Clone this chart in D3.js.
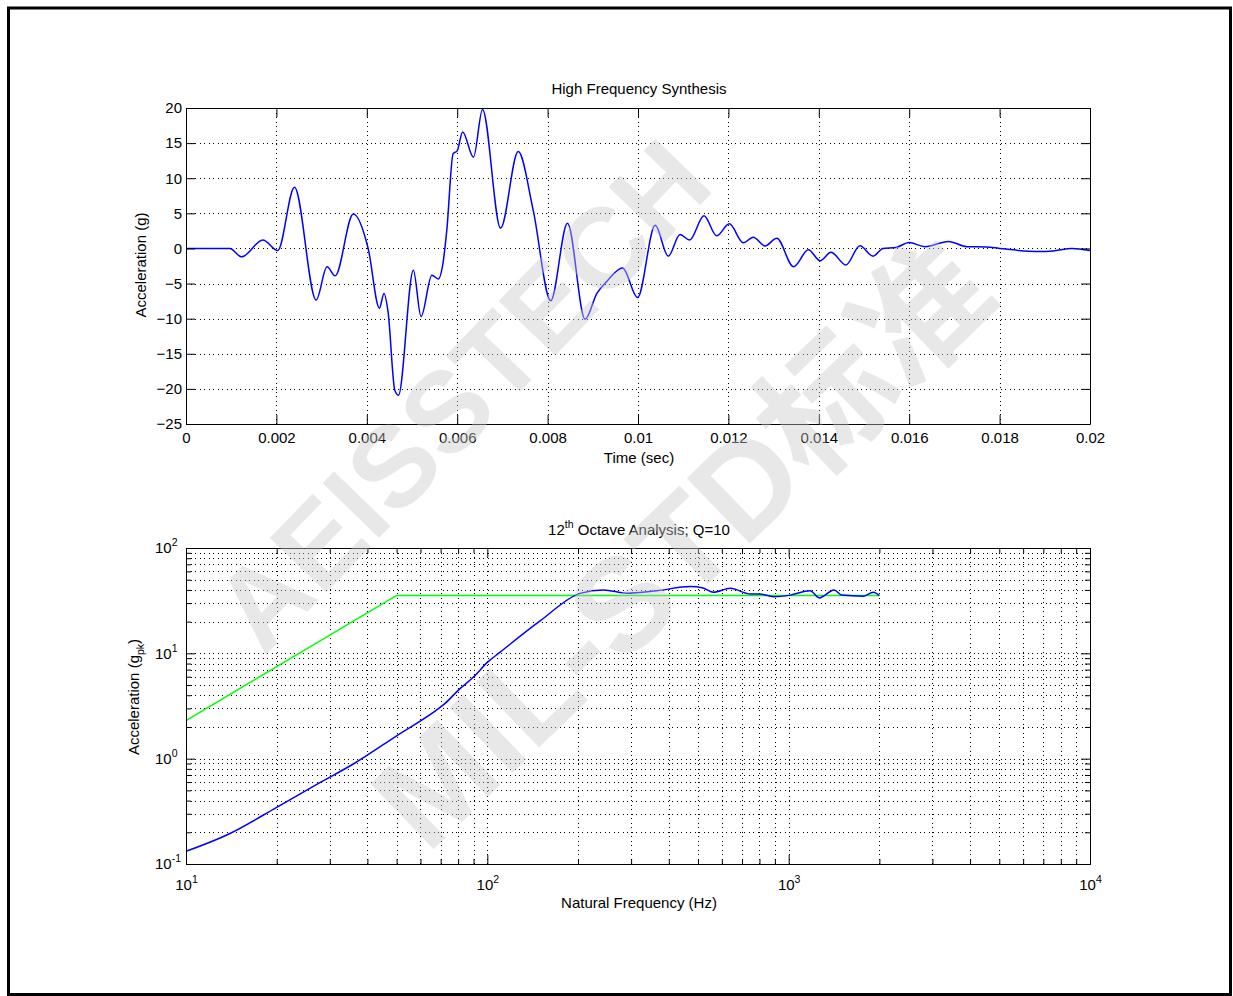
<!DOCTYPE html>
<html>
<head>
<meta charset="utf-8">
<script src="https://cdn.jsdelivr.net/npm/d3@7"></script>
<style>
  body { margin: 0; background: #fff; }
  svg text { font-family: "Liberation Sans", Arial, Helvetica, sans-serif; }
</style>
</head>
<body>
<svg id="fig" width="1233" height="996"></svg>
<script>
// ---- time history (acceleration, g) ----
const timeSec = [0,0.00097,0.00123,0.0017,0.00203,0.0024,0.00288,0.00312,0.0033,0.0037,
  0.00403,0.00428,0.00438,0.00447,0.00462,0.0047,0.00503,0.0052,0.00544,0.00558,
  0.00569,0.00577,0.00591,0.006,0.00612,0.00636,0.00656,0.00696,0.00735,0.00768,
  0.00807,0.00844,0.00883,0.00909,0.00931,0.00966,0.00999,0.01038,0.01067,0.01093,
  0.01114,0.01146,0.01174,0.01202,0.01233,0.01255,0.01281,0.01307,0.01344,0.01377,
  0.01403,0.01427,0.0146,0.01491,0.0152,0.01542,0.01571,0.016,0.01635,0.01687,
  0.01727,0.01771,0.018,0.01889,0.01918,0.0196,0.02];
const accelG = [0,0,-1.2,1.2,-0.3,8.7,-7.35,-2.6,-3.9,4.9,
  0,-8.5,-6.4,-9.0,-20.2,-20.9,-3.1,-9.7,-3.8,-4.35,
  -1.9,2.6,13.5,13.9,16.6,13.0,19.8,2.9,13.8,5.5,
  -7.45,3.6,-10.1,-6.4,-4.7,-2.8,-7.0,3.3,-1.1,2.0,
  1.2,4.65,1.8,3.5,0.8,1.6,0.35,1.45,-2.6,-0.2,
  -1.75,-0.55,-2.35,0.4,-1.1,0,0.15,0.85,0.25,1.0,
  0.25,0.2,0,-0.45,-0.35,0,-0.3];
const timeTicks = [0,0.002,0.004,0.006,0.008,0.01,0.012,0.014,0.016,0.018,0.02];
const timeTickLabels = ["0","0.002","0.004","0.006","0.008","0.01","0.012","0.014","0.016","0.018","0.02"];
const accelTicks = [-25,-20,-15,-10,-5,0,5,10,15,20];

// ---- shock response spectrum (1/12 octave, Q=10) ----
const srsFreqHz = [10,14,20,27.9,35.9,50,69.7,72.4,81,89.8,100,110,150,203,243,290,
  365,471,520,563,640,745,803,890,1012,1178,1264,1415,1500,1770,1910,2000];
const srsAccel = [0.132,0.195,0.345,0.595,0.89,1.65,3.07,3.35,4.6,5.92,8.2,10.2,20.4,37.1,40,37.2,
  39.3,43.0,41.7,38,41.5,36.6,36.6,34.5,35.7,39.3,33.6,40,35.7,34.9,38,35.3];
// specification (reference) spectrum
const specFreqHz = [10,50,2000];
const specAccel = [2.3,35.5,35.5];
const freqDecades = [10,100,1000,10000];
const accelDecades = [0.1,1,10,100];

const svg = d3.select("#fig");
const FONT = 15;

// outer figure frame
svg.append("rect")
  .attr("x", 8.5).attr("y", 8).attr("width", 1222).attr("height", 986.5)
  .attr("fill", "none").attr("stroke", "#000").attr("stroke-width", 3);

const L = 186, R = 1090;

// dotted grid helper
function dotted(sel) {
  sel.selectAll("line")
    .attr("stroke", "#000").attr("stroke-width", 1)
    .attr("stroke-dasharray", "1,3.5")
    .attr("shape-rendering", "crispEdges");
  sel.select(".domain").remove();
  sel.selectAll("text").remove();
}
function styleAxis(sel) {
  sel.select(".domain").attr("stroke", "#000").attr("stroke-width", 1);
  sel.selectAll(".tick line").attr("stroke", "#000").attr("stroke-width", 1);
  sel.selectAll("text").attr("font-size", FONT).attr("font-family", null).attr("fill", "#000");
}

// ================= top: time history =================
{
  const T = 108, B = 424;
  const x = d3.scaleLinear().domain([0, 0.02]).range([L, R]);
  const y = d3.scaleLinear().domain([-25, 20]).range([B, T]);
  const g = svg.append("g");

  // grid
  g.append("g").attr("transform", `translate(0,${B})`)
    .call(d3.axisBottom(x).tickValues(timeTicks.slice(1, -1)).tickSize(-(B - T)).tickFormat(""))
    .call(dotted);
  g.append("g").attr("transform", `translate(${L},0)`)
    .call(d3.axisLeft(y).tickValues(accelTicks.slice(1, -1)).tickSize(-(R - L)).tickFormat(""))
    .call(dotted);

  // data
  g.append("path")
    .datum(timeSec.map((t, i) => [t, accelG[i]]))
    .attr("fill", "none").attr("stroke", "#0000ff").attr("stroke-width", 1.5)
    .attr("stroke-linejoin", "round")
    .attr("d", d3.line().x(d => x(d[0])).y(d => y(d[1])).curve(d3.curveMonotoneX));

  // axes (ticks pointing inward, box on)
  g.append("g").attr("transform", `translate(0,${B})`)
    .call(d3.axisBottom(x).tickValues(timeTicks).tickSizeInner(-9).tickSizeOuter(0).tickPadding(8)
      .tickFormat((d, i) => timeTickLabels[i]))
    .call(styleAxis);
  g.append("g").attr("transform", `translate(0,${T})`)
    .call(d3.axisTop(x).tickValues(timeTicks).tickSizeInner(-9).tickSizeOuter(0).tickFormat(""))
    .call(styleAxis);
  g.append("g").attr("transform", `translate(${L},0)`)
    .call(d3.axisLeft(y).tickValues(accelTicks).tickSizeInner(-9).tickSizeOuter(0).tickPadding(4))
    .call(styleAxis);
  g.append("g").attr("transform", `translate(${R},0)`)
    .call(d3.axisRight(y).tickValues(accelTicks).tickSizeInner(-9).tickSizeOuter(0).tickFormat(""))
    .call(styleAxis);

  g.append("text").attr("x", 639).attr("y", 94).attr("text-anchor", "middle")
    .attr("font-size", FONT).text("High Frequency Synthesis");
  g.append("text").attr("x", 639).attr("y", 463).attr("text-anchor", "middle")
    .attr("font-size", FONT).text("Time (sec)");
  g.append("text").attr("transform", "translate(145.5,265) rotate(-90)").attr("text-anchor", "middle")
    .attr("font-size", FONT).text("Acceleration (g)");
}

// ================= bottom: SRS =================
{
  const T = 548, B = 864;
  const x = d3.scaleLog().domain([10, 10000]).range([L, R]);
  const y = d3.scaleLog().domain([0.1, 100]).range([B, T]);
  const g = svg.append("g");

  const minorOf = decades => {
    const out = [];
    decades.slice(0, -1).forEach(d => { for (let k = 2; k <= 9; k++) out.push(d * k); });
    return out;
  };
  const xMinor = minorOf(freqDecades), yMinor = minorOf(accelDecades);
  const xGrid = xMinor.concat(freqDecades.slice(1, -1));
  const yGrid = yMinor.concat(accelDecades.slice(1, -1));

  g.append("g").attr("transform", `translate(0,${B})`)
    .call(d3.axisBottom(x).tickValues(xGrid).tickSize(-(B - T)).tickFormat(""))
    .call(dotted);
  g.append("g").attr("transform", `translate(${L},0)`)
    .call(d3.axisLeft(y).tickValues(yGrid).tickSize(-(R - L)).tickFormat(""))
    .call(dotted);

  const line = d3.line().x(d => x(d[0])).y(d => y(d[1]));
  g.append("path")
    .datum(specFreqHz.map((f, i) => [f, specAccel[i]]))
    .attr("fill", "none").attr("stroke", "#00ff00").attr("stroke-width", 1.5)
    .attr("d", line);
  g.append("path")
    .datum(srsFreqHz.map((f, i) => [f, srsAccel[i]]))
    .attr("fill", "none").attr("stroke", "#0000ff").attr("stroke-width", 1.5)
    .attr("stroke-linejoin", "round")
    .attr("d", line.curve(d3.curveMonotoneX));

  // minor ticks
  [[d3.axisBottom, B, x, xMinor], [d3.axisTop, T, x, xMinor]].forEach(([ax, pos, sc, vals]) => {
    g.append("g").attr("transform", `translate(0,${pos})`)
      .call(ax(sc).tickValues(vals).tickSizeInner(-5).tickSizeOuter(0).tickFormat(""))
      .call(styleAxis);
  });
  [[d3.axisLeft, L, y, yMinor], [d3.axisRight, R, y, yMinor]].forEach(([ax, pos, sc, vals]) => {
    g.append("g").attr("transform", `translate(${pos},0)`)
      .call(ax(sc).tickValues(vals).tickSizeInner(-5).tickSizeOuter(0).tickFormat(""))
      .call(styleAxis);
  });

  const pow10 = (sel) => {
    sel.selectAll(".tick text").each(function (d) {
      const t = d3.select(this);
      const e = Math.round(Math.log10(d));
      t.text("10");
      t.append("tspan").attr("dy", -7).attr("font-size", 10.5).text(e);
    });
  };

  g.append("g").attr("transform", `translate(0,${B})`)
    .call(d3.axisBottom(x).tickValues(freqDecades).tickSizeInner(-9).tickSizeOuter(0).tickPadding(15))
    .call(styleAxis).call(pow10);
  g.append("g").attr("transform", `translate(0,${T})`)
    .call(d3.axisTop(x).tickValues(freqDecades).tickSizeInner(-9).tickSizeOuter(0).tickFormat(""))
    .call(styleAxis);
  g.append("g").attr("transform", `translate(${L},0)`)
    .call(d3.axisLeft(y).tickValues(accelDecades).tickSizeInner(-9).tickSizeOuter(0))
    .call(styleAxis).call(pow10)
    .call(s => s.selectAll(".tick text").attr("text-anchor", "start").attr("x", -31));
  g.append("g").attr("transform", `translate(${R},0)`)
    .call(d3.axisRight(y).tickValues(accelDecades).tickSizeInner(-9).tickSizeOuter(0).tickFormat(""))
    .call(styleAxis);

  const title = g.append("text").attr("x", 639).attr("y", 535).attr("text-anchor", "middle")
    .attr("font-size", FONT);
  title.append("tspan").text("12");
  title.append("tspan").attr("dy", -7).attr("font-size", 10.5).text("th");
  title.append("tspan").attr("dy", 7).text(" Octave Analysis; Q=10");

  g.append("text").attr("x", 639).attr("y", 908).attr("text-anchor", "middle")
    .attr("font-size", FONT).text("Natural Frequency (Hz)");

  const yl = g.append("text").attr("transform", "translate(139,697) rotate(-90)")
    .attr("text-anchor", "middle").attr("font-size", FONT);
  yl.append("tspan").text("Acceleration (g");
  yl.append("tspan").attr("dy", 5).attr("font-size", 10.5).text("pk");
  yl.append("tspan").attr("dy", -5).text(")");
}

// ---- watermark overlay ----
const marks = svg.append("g").attr("pointer-events", "none");
marks.append("text").attr("transform", "translate(462,395) rotate(-46)")
  .attr("text-anchor", "middle").attr("dominant-baseline", "central")
  .attr("font-size", 114).attr("font-weight", "bold")
  .style("fill", "rgb(200,200,200)").style("fill-opacity", 0.42)
  .text("AEISSTECH");
marks.append("text").attr("transform", "translate(683,545) rotate(-44)")
  .attr("text-anchor", "middle").attr("dominant-baseline", "central")
  .attr("font-size", 132).attr("font-weight", "bold")
  .style("fill", "rgb(200,200,200)").style("fill-opacity", 0.42)
  .style("font-family", "'Liberation Sans','Noto Sans CJK SC',sans-serif")
  .text("MIL-STD标准");
</script>
</body>
</html>
